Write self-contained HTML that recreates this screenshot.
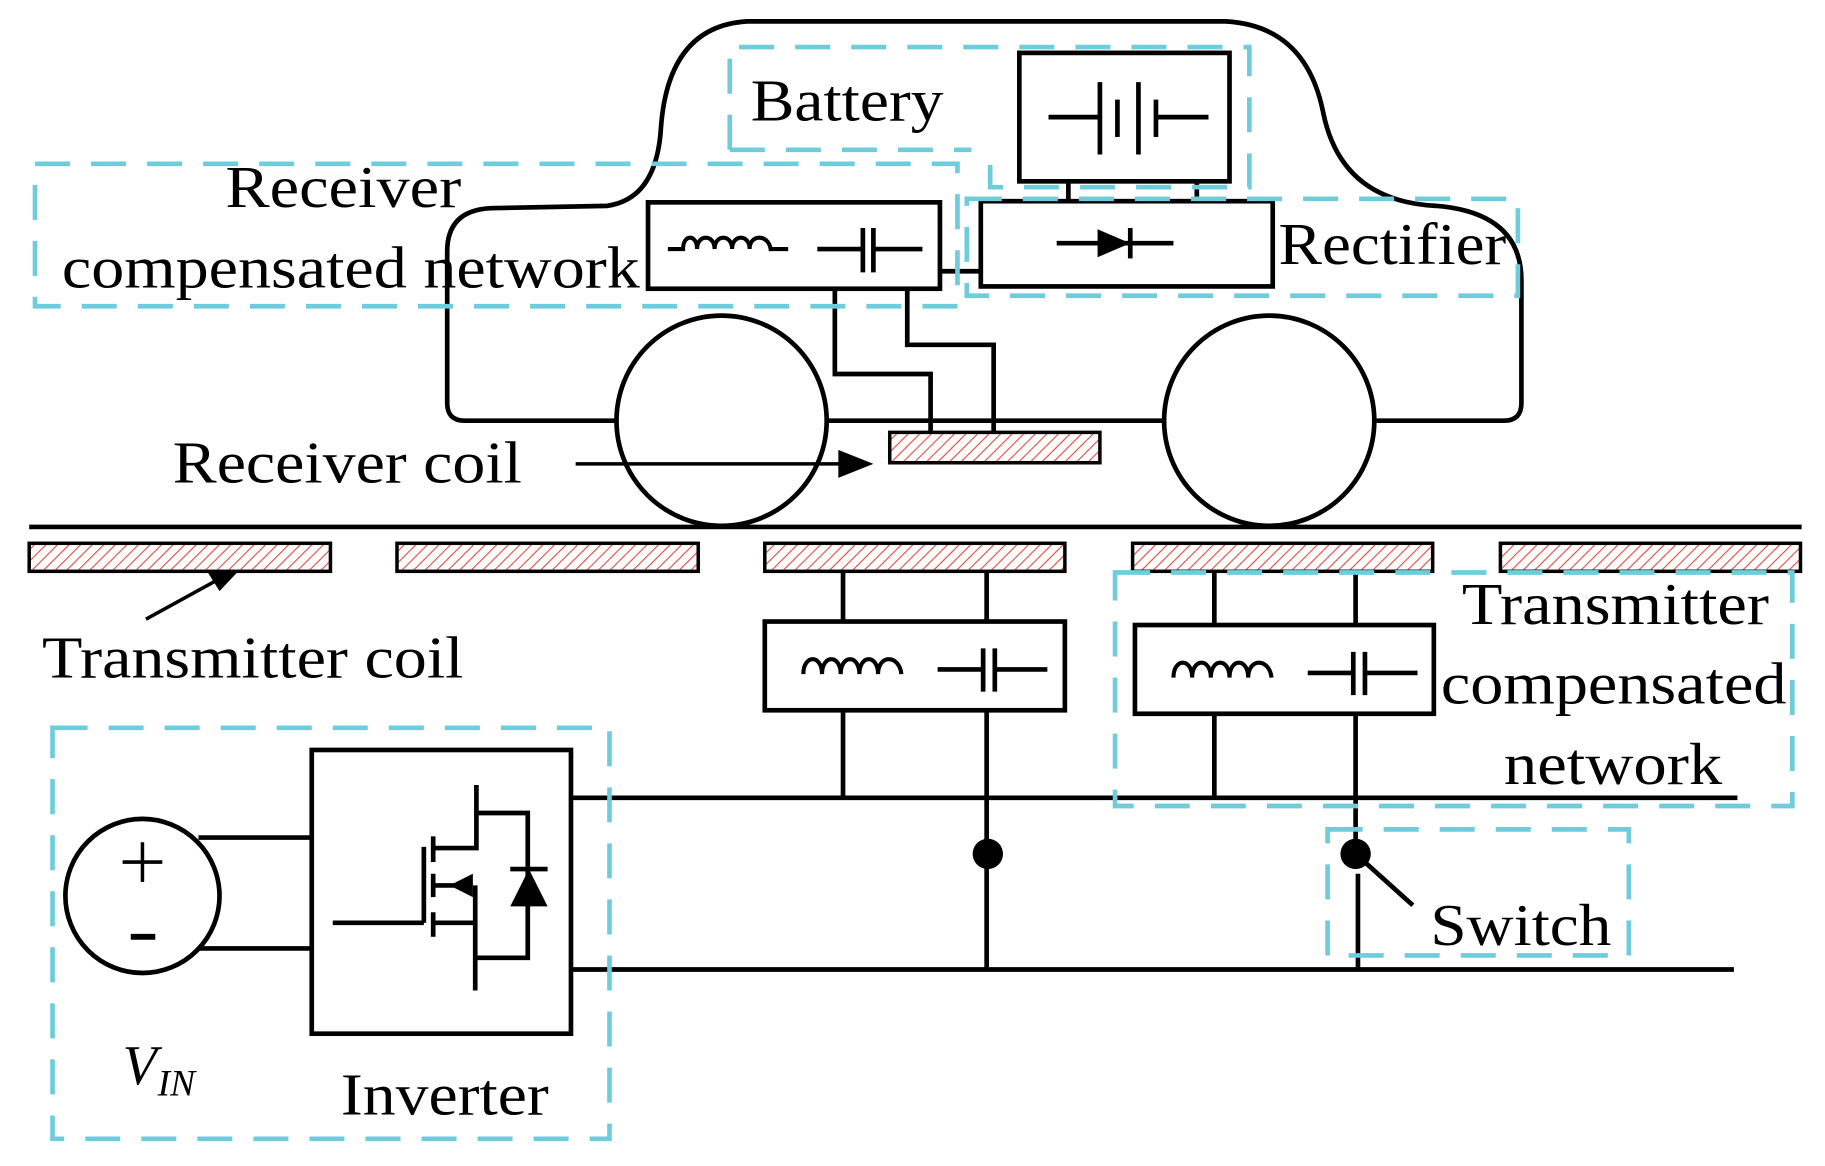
<!DOCTYPE html>
<html><head><meta charset="utf-8"><style>
html,body{margin:0;padding:0;background:#fff;}
svg{display:block;}
text{font-family:"Liberation Serif",serif;fill:#000;}
</style></head><body>
<svg width="1825" height="1166" viewBox="0 0 1563 998" xmlns="http://www.w3.org/2000/svg">
<defs>
<pattern id="h" patternUnits="userSpaceOnUse" width="7" height="7" patternTransform="rotate(45)">
<rect width="7" height="7" fill="#fff"/><line x1="0" y1="0" x2="0" y2="7" stroke="#e0524a" stroke-width="2"/>
</pattern>
</defs>
<g fill="none" stroke="#000" stroke-width="4">
<path d="M528,360 L398,360 Q383,360 383,345 L383,215 Q383,180 420,178 L520,176 Q562,170 566,110 Q572,22 640,18 L1050,18 Q1118,22 1133,95 Q1148,172 1230,176 Q1303,182 1303,240 L1303,345 Q1303,360 1288,360 L1177,360"/>
<line x1="708" y1="360" x2="997" y2="360"/>
<circle cx="618" cy="360" r="90"/>
<circle cx="1087" cy="360" r="90"/>
<rect x="873" y="45" width="180" height="110" stroke-width="4"/>
<line x1="898" y1="100" x2="942" y2="100"/>
<line x1="942" y1="70" x2="942" y2="132"/>
<line x1="957" y1="85" x2="957" y2="117"/>
<line x1="975" y1="70" x2="975" y2="132"/>
<line x1="990" y1="85" x2="990" y2="117"/>
<line x1="990" y1="100" x2="1035" y2="100"/>
<line x1="915" y1="155" x2="915" y2="172"/>
<line x1="1025" y1="155" x2="1025" y2="172"/>
<rect x="840" y="172" width="250" height="73"/>
<line x1="905" y1="208" x2="1005" y2="208"/>
<rect x="555" y="173" width="250" height="74"/>
<path d="M572,213 L585,213 C585,200 597,200 597,213 C597,200 612,200 612,213 C612,200 627,200 627,213 C627,200 642,200 642,213 C642,200 658,200 660,213 L675,213" stroke-width="3.5"/>
<line x1="700" y1="213" x2="739" y2="213"/>
<line x1="739" y1="195" x2="739" y2="233"/>
<line x1="748" y1="195" x2="748" y2="233"/>
<line x1="748" y1="213" x2="790" y2="213"/>
<line x1="805" y1="232" x2="840" y2="232"/>
<polyline points="715,247 715,320 797,320 797,370"/>
<polyline points="777,247 777,295 851,295 851,370"/>
<line x1="493" y1="397" x2="720" y2="397" stroke-width="3"/>
<line x1="25" y1="451" x2="1543" y2="451" stroke-width="4"/>
<rect x="655" y="532" width="257" height="76"/>
<rect x="972" y="535" width="256" height="76"/>
<line x1="722" y1="489" x2="722" y2="532"/><line x1="722" y1="608" x2="722" y2="683"/>
<line x1="845" y1="489" x2="845" y2="532"/><line x1="845" y1="608" x2="845" y2="830"/>
<line x1="1040" y1="489" x2="1040" y2="535"/><line x1="1040" y1="611" x2="1040" y2="683"/>
<line x1="1161" y1="489" x2="1161" y2="535"/><line x1="1161" y1="611" x2="1161" y2="731"/>
<path d="M688,577 C688,560 704,560 704,577 C704,560 720,560 720,577 C720,560 736,560 736,577 C736,560 752,560 752,577 C752,560 770,560 772,577" stroke-width="3.5"/>
<line x1="803" y1="573" x2="842" y2="573"/><line x1="842" y1="555" x2="842" y2="592"/><line x1="852" y1="555" x2="852" y2="592"/><line x1="852" y1="573" x2="897" y2="573"/>
<path d="M1005,580 C1005,563 1021,563 1021,580 C1021,563 1037,563 1037,580 C1037,563 1053,563 1053,580 C1053,563 1069,563 1069,580 C1069,563 1087,563 1089,580" stroke-width="3.5"/>
<line x1="1120" y1="576" x2="1159" y2="576"/><line x1="1159" y1="558" x2="1159" y2="595"/><line x1="1169" y1="558" x2="1169" y2="595"/><line x1="1169" y1="576" x2="1214" y2="576"/>
<line x1="490" y1="683" x2="1488" y2="683"/>
<line x1="490" y1="830" x2="1485" y2="830"/>
<line x1="1161" y1="731" x2="1210" y2="775"/>
<line x1="1163" y1="748" x2="1163" y2="830"/>
<line x1="125" y1="530" x2="185" y2="497" stroke-width="3"/>
<circle cx="122" cy="767" r="66"/>
<line x1="170" y1="717" x2="267" y2="717"/>
<line x1="170" y1="812" x2="267" y2="812"/>
<line x1="105" y1="738" x2="139" y2="738" stroke-width="3"/><line x1="122" y1="721" x2="122" y2="755" stroke-width="3"/>
<line x1="112" y1="802" x2="133" y2="802" stroke-width="5"/>
<rect x="267" y="642" width="222" height="243"/>
<line x1="285" y1="790" x2="363" y2="790"/>
<line x1="363" y1="725" x2="363" y2="790"/>
<line x1="371" y1="716" x2="371" y2="738"/><line x1="371" y1="748" x2="371" y2="768"/><line x1="371" y1="781" x2="371" y2="802"/>
<polyline points="371,726 408,726 408,672"/>
<polyline points="408,696 452,696 452,820 407,820"/>
<line x1="371" y1="758" x2="395" y2="758"/>
<line x1="407" y1="758" x2="407" y2="848"/>
<line x1="371" y1="790" x2="407" y2="790"/>
<line x1="437" y1="744" x2="469" y2="744"/>
</g>
<g fill="#000">
<polygon points="718,385 748,397 718,409"/>
<polygon points="205,488 178,490 188,506"/>
<polygon points="940,196 968,208 940,220"/>
<rect x="966" y="195" width="4" height="26"/>
<circle cx="846" cy="731" r="13"/>
<circle cx="1161" cy="731" r="13"/>
<polygon points="385,758 405,748 405,768"/>
<polygon points="437,776 453,744 469,776"/>
</g>
<g stroke="#000" stroke-width="3" fill="url(#h)">
<rect x="762" y="370" width="180" height="26"/>
<rect x="25" y="465" width="258" height="24"/>
<rect x="340" y="465" width="258" height="24"/>
<rect x="655" y="465" width="257" height="24"/>
<rect x="970" y="465" width="257" height="24"/>
<rect x="1285" y="465" width="257" height="24"/>
</g>
<g fill="none" stroke="#6ECCDC" stroke-width="4" stroke-dasharray="30 18">
<path d="M625,128 L625,40 L1070,40 L1070,160 L848,160 L848,140 M625,128 L832,128"/>
<rect x="30" y="140" width="790" height="122"/>
<rect x="828" y="170" width="472" height="83"/>
<rect x="955" y="490" width="580" height="200"/>
<rect x="1137" y="710" width="258" height="108"/>
<rect x="45" y="623" width="477" height="352"/>
</g>
<g font-size="51" lengthAdjust="spacingAndGlyphs">
<text x="643" y="103" textLength="165" lengthAdjust="spacingAndGlyphs">Battery</text>
<text x="193" y="177" textLength="202" lengthAdjust="spacingAndGlyphs">Receiver</text>
<text x="53" y="246" textLength="495" lengthAdjust="spacingAndGlyphs">compensated network</text>
<text x="1095" y="226" textLength="195" lengthAdjust="spacingAndGlyphs">Rectifier</text>
<text x="148" y="413" textLength="299" lengthAdjust="spacingAndGlyphs">Receiver coil</text>
<text x="36" y="580" textLength="361" lengthAdjust="spacingAndGlyphs">Transmitter coil</text>
<text x="1252" y="534" textLength="263" lengthAdjust="spacingAndGlyphs">Transmitter</text>
<text x="1234" y="602" textLength="296" lengthAdjust="spacingAndGlyphs">compensated</text>
<text x="1288" y="671" textLength="187" lengthAdjust="spacingAndGlyphs">network</text>
<text x="1225" y="809" textLength="155" lengthAdjust="spacingAndGlyphs">Switch</text>
<text x="292" y="954" textLength="178" lengthAdjust="spacingAndGlyphs">Inverter</text>
<text x="105" y="928" font-style="italic" font-size="48">V</text>
<text x="135" y="938" font-style="italic" font-size="32">IN</text>
</g>
</svg>
</body></html>
